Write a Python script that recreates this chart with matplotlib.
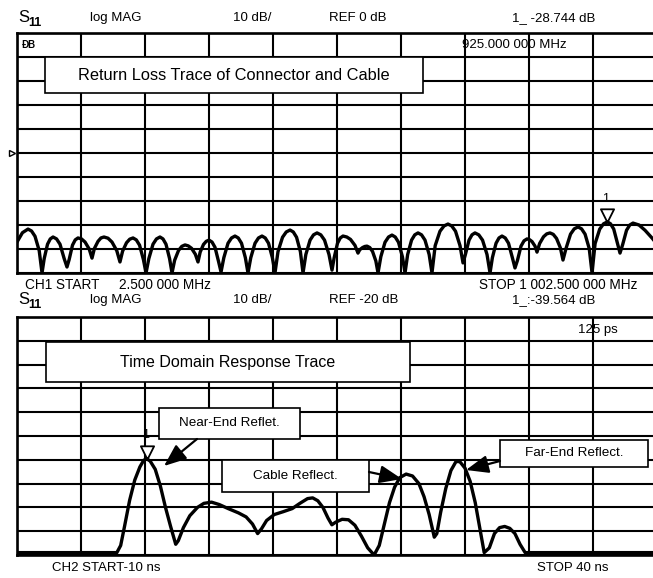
import matplotlib
matplotlib.use("Agg")
import matplotlib.pyplot as plt
import numpy as np
from matplotlib.path import Path
from matplotlib.markers import MarkerStyle
from matplotlib.patches import Rectangle, FancyArrowPatch
import matplotlib.transforms as mtransforms

plt.rcParams['font.family'] = ['Liberation Sans', 'DejaVu Sans']

# ---------------- data: channel 1 (return loss, frequency domain) ----------------
ch1_start_mhz = 2.5
ch1_stop_mhz = 1002.5
ch1_ref_db = 0
ch1_scale_db = 10
ch1_ref_pos = 5          # divisions from bottom
ch1_freq_mhz = [
    2.5, 11, 19.7, 25.2, 30.65, 37.2, 41.6, 45.0, 50.2, 54.5, 58.8, 64.3, 69.7, 76.2,
    80.6, 84.0, 89.2, 93.5, 97.8, 103.3, 108.8, 115.3, 119.7, 123.4, 129.1, 133.7,
    138.4, 144.7, 150.9, 158.4, 163.4, 167.5, 173.6, 178.7, 183.8, 188.9, 194, 200,
    204.1, 208.5, 215, 220.4, 225.9, 230.6, 235.3, 240.9, 244.7, 248.8, 254.9, 260,
    265, 270.1, 275.2, 281.2, 285.3, 288.7, 293.9, 298.2, 302.5, 307.2, 311.9, 317.5,
    321.3, 325.7, 332.2, 337.7, 343.1, 348.2, 353.3, 359.3, 363.4, 367.8, 374.4, 379.8,
    385.3, 390.4, 395.5, 401.5, 405.6, 410.3, 417.4, 423.2, 429.1, 434.2, 439.3, 445.3,
    449.4, 453.8, 460.4, 465.8, 471.3, 477.2, 483, 490, 494.7, 498.1, 503.3, 507.6,
    511.9, 517.8, 523.6, 530.6, 535.3, 538.1, 542.4, 545.9, 549.4, 553.7, 558, 563.2,
    566.6, 571, 577.5, 583, 588.4, 593.5, 598.6, 604.7, 608.8, 612.9, 619, 624,
    629.1, 634.6, 640, 646.5, 650.9, 655.9, 663.4, 669.7, 675.9, 681.8, 687.7, 694.7,
    699.4, 703.1, 708.8, 713.4, 718.1, 724, 729.9, 736.9, 741.6, 745.3, 751, 755.6,
    760.3, 765.4, 770.5, 776.5, 780.6, 784.4, 790, 794.7, 799.4, 803.3, 807.2, 811.9,
    815, 819.1, 825.2, 830.2, 835.3, 840.4, 845.5, 851.5, 855.6, 860.3, 867.4, 873.2,
    879.1, 884.6, 890.1, 896.6, 901, 905.8, 913, 919, 925, 929.9, 934.9, 940.8,
    944.7, 948.8, 954.9, 960, 965, 974.4, 983.8, 995, 1002.5]
ch1_db = [
    -37.1, -33.2, -31.7, -32.5, -34.7, -40.7, -50, -44, -38, -35.8, -35, -35.8, -38, -44,
    -47.5, -44.4, -38.4, -36.2, -35.4, -35.8, -37.1, -40, -43.8, -39.8, -36.8, -35.4,
    -35, -35.5, -37.1, -40.7, -45.4, -40.9, -37.4, -35.9, -35.4, -36.2, -38.4, -44.4,
    -50, -44, -38, -35.8, -35, -35.8, -38, -44, -50, -44.7, -40.6, -38.9,
    -38.3, -38.7, -39.7, -42.2, -45.4, -41.3, -38.1, -36.8, -36.3, -37.1, -39.3, -45.3,
    -49.6, -43.6, -37.6, -35.4, -34.6, -35.4, -37.6, -43.6, -50, -43.6, -37.6, -35.4,
    -34.6, -35.4, -37.6, -43.6, -50, -41.1, -35.1, -32.9, -32.1, -32.9, -35.1, -41.1,
    -50, -42.3, -36.3, -34.1, -33.3, -34.1, -36.3, -42.3, -48.8, -43.6, -37.6, -35.4,
    -34.6, -35, -36, -38.5, -41.7, -40.3, -39.4, -38.95, -38.8, -39.4, -41, -45,
    -50, -43.2, -37.2, -35, -34.2, -35, -37.2, -43.2, -50, -42.3, -36.3, -34.1,
    -33.3, -34.1, -36.3, -42.3, -50, -38.6, -32.6, -30.4, -29.6, -30.4, -32.6, -38.6,
    -45.8, -42.3, -36.3, -34.1, -33.3, -34.1, -36.3, -42.3, -50, -43.6, -37.6, -35.4,
    -34.6, -35.4, -37.6, -43.6, -47.9, -44.8, -38.8, -36.6, -35.8, -36.1, -36.9, -38.8,
    -41.3, -37.7, -34.9, -33.7, -33.3, -33.9, -35.6, -39.5, -44.6, -39.8, -33.8, -31.6,
    -30.8, -31.6, -33.8, -39.8, -50, -37.7, -31.7, -29.5, -28.7, -29.5, -31.7, -37.7,
    -41.7, -38.2, -32.2, -30, -29.2, -30, -32.2, -35.5, -38]
ch1_marker_mhz = 925.0
ch1_marker_db = -28.744

# ---------------- data: channel 2 (time domain response) ----------------
ch2_start_ns = -10
ch2_stop_ns = 40
ch2_ref_db = -20
ch2_scale_db = 10
ch2_ref_pos = 6
ch2_time_ns = [
    -10, -2.2, -1.9, -1.6, -1.2, -0.8, -0.4, -0.1, 0.125, 0.4, 0.8, 1.2, 1.6, 2.0, 2.4,
    2.6, 3.0, 3.5, 4.1, 4.6, 5.2, 5.8, 6.5, 7.3, 7.9, 8.4, 8.8, 9.1, 9.5, 10.1, 10.8,
    11.5, 12.1, 12.7, 13.1, 13.5, 13.9, 14.3, 14.6, 14.9, 15.4, 15.9, 16.4, 16.9, 17.4,
    17.9, 18.3, 18.7, 19.1, 19.5, 19.9, 20.4, 20.9, 21.4, 21.8, 22.2, 22.6, 22.8, 23.1,
    23.5, 23.9, 24.3, 24.6, 25.0, 25.4, 25.8, 26.2, 26.5, 26.9, 27.3, 27.7, 28.1, 28.5,
    28.9, 29.3, 29.7, 40]
ch2_db = [
    -79, -79, -76, -68, -57, -48.5, -43, -40.2, -39.56, -40.5, -44, -51, -60, -68, -75.5,
    -74, -68.5, -63.5, -60, -58.3, -57.8, -58.8, -60.5, -62.3, -64, -67, -71, -69, -65.5,
    -63, -61.8, -60.5, -58.3, -56.3, -56, -57.2, -60, -64.5, -67.3, -66.2, -65, -65.2,
    -67.5, -72, -77, -80, -76, -67, -58, -51.5, -47.5, -46, -46.8, -50, -55.5, -63, -72.5,
    -71, -62, -52, -44.5, -40.7, -40.8, -43.5, -49, -58, -70, -79, -77, -71, -68.5, -68,
    -68.8, -71, -75.5, -79, -79]
ch2_marker_ns = 0.125
ch2_marker_db = -39.564

W, H = 653, 578
fig = plt.figure(figsize=(W / 100, H / 100), dpi=100)

def px_ax(x0, y0, x1, y1):
    return fig.add_axes([x0 / W, 1 - y1 / H, (x1 - x0) / W, (y1 - y0) / H])

ax1 = px_ax(17, 33, 657, 273)
ax2 = px_ax(17, 317, 657, 555)

GRID_LW = 1.5
TRACE_LW = 2.4

def style_grid(ax, x0, x1, y0, y1):
    ax.set_xlim(x0, x1)
    ax.set_ylim(y0, y1)
    ax.set_xticks(np.linspace(x0, x1, 11))
    ax.set_yticks(np.linspace(y0, y1, 11))
    ax.tick_params(length=0, labelbottom=False, labelleft=False)
    ax.grid(True, color='black', lw=GRID_LW)
    for s in ax.spines.values():
        s.set_linewidth(GRID_LW + 0.4)
        s.set_color('black')
    ax.set_axisbelow(True)

y1lo = ch1_ref_db - ch1_ref_pos * ch1_scale_db
y1hi = y1lo + 10 * ch1_scale_db
y2lo = ch2_ref_db - ch2_ref_pos * ch2_scale_db
y2hi = y2lo + 10 * ch2_scale_db
style_grid(ax1, ch1_start_mhz, ch1_stop_mhz, y1lo, y1hi)
style_grid(ax2, ch2_start_ns, ch2_stop_ns, y2lo, y2hi)

ax1.plot(ch1_freq_mhz, ch1_db, color='black', lw=TRACE_LW, solid_joinstyle='round', zorder=3)
ax2.plot(ch2_time_ns, ch2_db, color='black', lw=TRACE_LW, solid_joinstyle='round', zorder=3)

# marker triangles (tip at the trace point)
tri = MarkerStyle(Path([(0, 0), (-0.5, 1.0), (0.5, 1.0), (0, 0)]))
for ax, mx, my in [(ax1, ch1_marker_mhz, ch1_marker_db), (ax2, ch2_marker_ns, ch2_marker_db)]:
    ax.plot([mx], [my], marker=tri, ms=19, mfc='white', mec='black', mew=1.3, zorder=4, clip_on=False)
    ax.annotate('1', (mx, my), xytext=(-1, 12.5), textcoords='offset points', ha='center',
                va='bottom', fontsize=9, zorder=5)

# reference level marker on channel 1
tr = mtransforms.blended_transform_factory(ax1.transAxes, ax1.transData)
ax1.plot([-0.008], [ch1_ref_db], marker='>', ms=5, mfc='white', mec='black', mew=1,
         transform=tr, clip_on=False)

def box(x0, y0, x1, y1, text, fs):
    r = Rectangle((x0 / W, 1 - y1 / H), (x1 - x0) / W, (y1 - y0) / H, transform=fig.transFigure,
                  facecolor='white', edgecolor='black', lw=1.2, zorder=6)
    fig.add_artist(r)
    fig.text((x0 + x1) / 2 / W, 1 - (y0 + y1) / 2 / H, text, ha='center', va='center',
             fontsize=fs, zorder=7)

box(45, 57, 423, 93, 'Return Loss Trace of Connector and Cable', 11.8)
box(46, 342, 410, 382, 'Time Domain Response Trace', 11.5)
box(159, 408, 300, 439, 'Near-End Reflet.', 9.7)
box(222, 460, 369, 492, 'Cable Reflect.', 9.7)
box(500, 440, 648, 467, 'Far-End Reflect.', 9.7)

def arrow(x0, y0, x1, y1):
    fig.add_artist(FancyArrowPatch(
        (x0 / W, 1 - y0 / H), (x1 / W, 1 - y1 / H), transform=fig.transFigure,
        arrowstyle='-|>,head_length=8,head_width=3.2', lw=1.6, color='black',
        mutation_scale=1.7, zorder=8, shrinkA=0, shrinkB=0))

arrow(197, 439, 164, 466)
arrow(369, 472, 402, 479)
arrow(500, 461, 466, 470)

def t(x, y, s, fs=9.5, **kw):
    fig.text(x / W, 1 - y / H, s, fontsize=fs, va='center', ha='left', **kw)

# header channel 1
t(18, 18, 'S', 12)
t(28, 23, '11', 9, weight='bold')
t(90, 18, 'log MAG')
t(233, 18, '10 dB/')
t(329, 18, 'REF 0 dB')
t(512, 18, '1_ -28.744 dB')
t(22, 45, 'ÐB', 7, weight='bold')
t(462, 45, '925.000 000 MHz')
t(25, 285, 'CH1 START', 9.8)
t(119, 285, '2.500 000 MHz', 9.8)
t(479, 285, 'STOP 1 002.500 000 MHz', 9.8)
# header channel 2
t(18, 300, 'S', 12)
t(28, 305, '11', 9, weight='bold')
t(90, 300, 'log MAG')
t(233, 300, '10 dB/')
t(329, 300, 'REF -20 dB')
t(512, 300, '1_:-39.564 dB')
t(578, 330, '125 ps')
t(52, 568, 'CH2 START-10 ns')
t(537, 568, 'STOP 40 ns')

fig.savefig('out.png', dpi=100, facecolor='white')
